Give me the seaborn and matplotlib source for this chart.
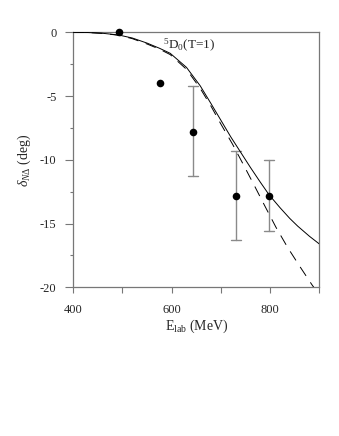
import numpy as np
import pandas as pd
import matplotlib
matplotlib.use("Agg")
import matplotlib.pyplot as plt
import seaborn as sns

# ---- data ----
solid_E = [400, 430, 460, 493, 520, 550, 575, 597, 630, 658, 680, 700, 720, 740, 760,
           780, 798, 820, 840, 856, 880, 900]
solid_d = [0.0, -0.02, -0.08, -0.22, -0.45, -0.85, -1.25, -1.65, -2.75, -4.2, -5.6, -6.9,
           -8.2, -9.4, -10.6, -11.75, -12.75, -13.75, -14.6, -15.2, -16.0, -16.6]

dash_E = [400, 430, 460, 493, 520, 550, 575, 597, 630, 658, 680, 700, 724, 746, 769,
          789, 812, 836, 861, 885, 900]
dash_d = [0.0, -0.02, -0.09, -0.24, -0.5, -0.92, -1.32, -1.75, -2.9, -4.4, -5.8, -7.2,
          -8.8, -10.4, -12.1, -13.6, -15.3, -16.9, -18.4, -19.8, -20.6]

pts_E = [493, 577, 643, 730, 797]
pts_d = [0.0, -4.0, -7.8, -12.8, -12.8]
err_lo = [None, None, -11.3, -16.3, -15.6]
err_hi = [None, None, -4.25, -9.3, -10.0]

curve_label = r"$^{5}$D$_{0}$(T=1)"
xlabel = r"E$_{\rm lab}$ (MeV)"
ylabel = r"$\delta_{N\Delta}$ (deg)"
xticks = [400, 500, 600, 700, 800, 900]
xticklabels = ["400", "", "600", "", "800", ""]
yticks = [0, -5, -10, -15, -20]

sns.set_style("ticks")
plt.rcParams["font.family"] = ["Liberation Serif", "DejaVu Serif"]
plt.rcParams["mathtext.fontset"] = "custom"
plt.rcParams["mathtext.rm"] = "Liberation Serif"
plt.rcParams["mathtext.it"] = "Liberation Serif:italic"
plt.rcParams["axes.unicode_minus"] = False

fig = plt.figure(figsize=(3.39, 4.36), dpi=100)
ax = fig.add_axes([0.216, 0.341, 0.726, 0.585])

sol = pd.DataFrame({"E": solid_E, "d": solid_d})
das = pd.DataFrame({"E": dash_E, "d": dash_d})
pts = pd.DataFrame({"E": pts_E, "d": pts_d})

# error bars
for E, lo, hi in zip(pts_E, err_lo, err_hi):
    if lo is None:
        continue
    ax.plot([E, E], [lo, hi], color="#8a8a8a", lw=1.0, zorder=2)
    for y in (lo, hi):
        ax.plot([E - 10, E + 10], [y, y], color="#8a8a8a", lw=1.0, zorder=2)

sns.lineplot(data=sol, x="E", y="d", ax=ax, color="black", lw=0.7, sort=False, zorder=3)
sns.lineplot(data=das, x="E", y="d", ax=ax, color="black", lw=0.7, sort=False, zorder=3)
ax.lines[-1].set_dashes([11, 8])
sns.scatterplot(data=pts, x="E", y="d", ax=ax, color="black", s=30, edgecolor="black",
                linewidth=0, zorder=4, clip_on=False)

ax.text(582, -1.0, curve_label, fontsize=9.5, va="center", ha="left")

ax.set_xlim(400, 900)
ax.set_ylim(-20, 0)
ax.set_xticks(xticks)
ax.set_xticklabels(xticklabels)
ax.set_yticks(yticks)
ax.set_yticklabels([str(t) for t in yticks])
ax.set_yticks([-2.5, -7.5, -12.5, -17.5], minor=True)

for s in ax.spines.values():
    s.set_visible(True)
    s.set_color("#777777")
    s.set_linewidth(0.9)

ax.tick_params(axis="x", which="major", length=4, width=0.8, color="#777777",
               labelsize=9, pad=8, direction="out")
ax.tick_params(axis="y", which="major", length=6, width=0.8, color="#777777",
               labelsize=9, pad=6, direction="out")
ax.tick_params(axis="y", which="minor", length=2, width=0.8, color="#777777", direction="out")

ax.set_xlabel(xlabel, fontsize=10, labelpad=1)
ax.set_ylabel(ylabel, fontsize=10, labelpad=5)

fig.savefig("out.png", dpi=100)
